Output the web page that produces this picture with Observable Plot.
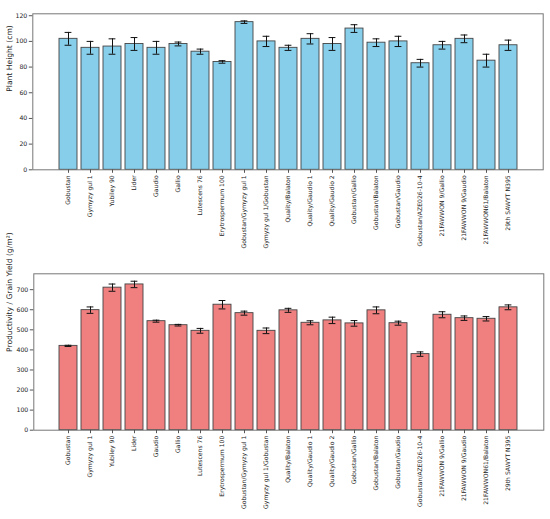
<!DOCTYPE html>
<html>
<head>
<meta charset="utf-8">
<script src="https://cdn.jsdelivr.net/npm/d3@7"></script>
<script src="https://cdn.jsdelivr.net/npm/@observablehq/plot@0.6"></script>
<style>
  html, body { margin: 0; padding: 0; background: #fff; }
  #wrap { position: relative; width: 550px; height: 519px; font-family: "DejaVu Sans", sans-serif; }
  .panel { position: absolute; left: 0; }
  .tag { position: absolute; font-weight: bold; font-size: 10.5px; font-family: "DejaVu Sans", sans-serif; color: #000; }
  svg { overflow: visible; }
</style>
</head>
<body>
<div id="wrap">
  <div class="tag" style="left:3px; top:3px;">A</div>
  <div class="tag" style="left:3px; top:263px;">B</div>
  <div id="pa" class="panel" style="top:0px;"></div>
  <div id="pb" class="panel" style="top:255px;"></div>
</div>
<script>
const categories = [
  "Gobustan", "Gymyzy gul 1", "Yubiley 90", "Lider", "Gaudio", "Gallio",
  "Lutescens 76", "Erytrospermum 100", "Gobustan/Gymyzy gul 1", "Gymyzy gul 1/Gobustan",
  "Quality/Balaton", "Quality/Gaudio 1", "Quality/Gaudio 2", "Gobustan/Gallio",
  "Gobustan/Balaton", "Gobustan/Gaudio", "Gobustan/AZE026-10-4", "21FAWWON 9/Gallio",
  "21FAWWON 9/Gaudio", "21FAWWON61/Balaton", "29th SAWYT N395"
];
const heightMean = [102, 95, 96, 98, 95, 98, 92, 84, 115, 100, 95, 102, 98, 110, 99, 100, 83, 97, 102, 85, 97];
const heightErr  = [5, 5, 6, 5, 5, 1.5, 2, 1, 1, 4, 2, 4, 5, 3, 3, 4, 3, 3, 3, 5, 4];
const yieldMean  = [420, 598, 710, 726, 543, 523, 495, 625, 583, 495, 597, 535, 547, 532, 597, 533, 379, 575, 558, 555, 612];
const yieldErr   = [3, 16, 18, 16, 5, 4, 12, 21, 10, 14, 10, 10, 16, 14, 17, 10, 11, 15, 11, 11, 12];
const heightTicks = [0, 20, 40, 60, 80, 100, 120];
const yieldTicks  = [0, 100, 200, 300, 400, 500, 600, 700];

function panel(means, errs, opts) {
  const data = categories.map((c, i) => ({cat: c, v: means[i], e: errs[i]}));
  return Plot.plot({
    width: 550,
    height: opts.height,
    marginTop: opts.mt,
    marginBottom: opts.mb,
    marginLeft: opts.ml,
    marginRight: opts.mr,
    style: {fontFamily: "DejaVu Sans", fontSize: "6.2px", color: "#222", background: "#fff"},
    x: {type: "band", domain: categories, paddingInner: 0.2, paddingOuter: 1.04, align: 0.5},
    y: {domain: opts.ydomain},
    marks: [
      Plot.barY(data, {x: "cat", y: "v", fill: opts.fill, stroke: "#444", strokeWidth: 0.9}),
      Plot.ruleX(data, {x: "cat", y1: d => d.v - d.e, y2: d => d.v + d.e, stroke: "#111", strokeWidth: 1}),
      Plot.tickY(data, {x: "cat", y: d => d.v - d.e, stroke: "#111", strokeWidth: 1, insetLeft: 5.6, insetRight: 5.6}),
      Plot.tickY(data, {x: "cat", y: d => d.v + d.e, stroke: "#111", strokeWidth: 1, insetLeft: 5.6, insetRight: 5.6}),
      Plot.frame({stroke: "#777", strokeWidth: 1}),
      Plot.axisY({ticks: opts.ticks, tickSize: 3.5, tickPadding: 2, label: null, stroke: "#555", fontSize: 6.2}),
      Plot.axisX({tickSize: 3.5, tickPadding: 2, tickRotate: -90, label: null, stroke: "#555", fontSize: 6.1}),
      Plot.text([opts.ylabel], {frameAnchor: "left", dx: opts.ldx, rotate: -90, fontSize: 7.6, fill: "#222"})
    ]
  });
}

document.getElementById("pa").appendChild(panel(heightMean, heightErr, {
  height: 255, mt: 13.3, mb: 85.7, ml: 32.3, mr: 7.3,
  ydomain: [0, 121.5], ticks: heightTicks, fill: "#87CEEB",
  ylabel: "Plant Height (cm)", ldx: -23
}));
document.getElementById("pb").appendChild(panel(yieldMean, yieldErr, {
  height: 264, mt: 18.3, mb: 89.3, ml: 33.3, mr: 6.7,
  ydomain: [0, 779], ticks: yieldTicks, fill: "#F08080",
  ylabel: "Productivity / Grain Yield (g/m²)", ldx: -24
}));
</script>
</body>
</html>
